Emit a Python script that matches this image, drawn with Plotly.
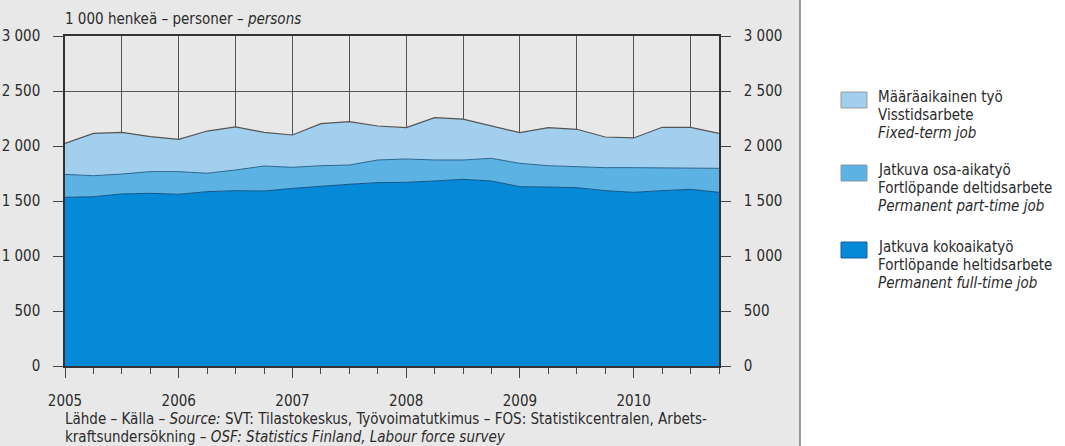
import plotly.graph_objects as go

# ---- data (1 000 persons), quarterly 2005Q1 .. 2010Q4 ----
quarters = [2005 + i * 0.25 for i in range(24)]
full_time = [1533, 1539, 1564, 1570, 1561, 1585, 1594, 1591, 1615, 1636, 1652, 1667,
             1670, 1682, 1697, 1682, 1630, 1627, 1621, 1594, 1579, 1594, 1606, 1579]
part_time = [209, 191, 181, 197, 206, 167, 188, 227, 191, 185, 175, 206,
             212, 191, 176, 206, 212, 194, 191, 209, 224, 209, 191, 218]
fixed_term = [282, 385, 379, 318, 294, 384, 391, 306, 294, 382, 394, 309,
              285, 385, 372, 294, 279, 346, 340, 279, 270, 367, 373, 318]

y_tickvals = [0, 500, 1000, 1500, 2000, 2500, 3000]
y_ticktext = ["0", "500", "1 000", "1 500", "2 000", "2 500", "3 000"]
x_tickvals = [2005 + 0.5 * i for i in range(12)]
x_ticktext = [str(int(v)) if v == int(v) else "" for v in x_tickvals]

series_names = [
    ["Määräaikainen työ", "Visstidsarbete", "<i>Fixed-term job</i>"],
    ["Jatkuva osa-aikatyö", "Fortlöpande deltidsarbete", "<i>Permanent part-time job</i>"],
    ["Jatkuva kokoaikatyö", "Fortlöpande heltidsarbete", "<i>Permanent full-time job</i>"],
]

FONT = "DejaVu Sans Condensed, Liberation Sans Narrow, sans-serif"
TXT = "#2b2b2b"
C_FIXED = "#a3cfee"
C_PART = "#5cb2e3"
C_FULL = "#0689d6"

W, H = 1065, 446
L, R, T, B = 65, 346, 36, 80
PW, PH = W - L - R, H - T - B


def px_x(x):
    return (x - L) / PW


def px_y(y):
    return (H - B - y) / PH


fig = go.Figure()
fig.add_trace(go.Scatter(x=quarters, y=full_time, stackgroup="one", mode="lines",
                         line=dict(color="#12558c", width=1), fillcolor=C_FULL,
                         name="full", showlegend=False, hoverinfo="skip"))
fig.add_trace(go.Scatter(x=quarters, y=part_time, stackgroup="one", mode="lines",
                         line=dict(color="#2a6690", width=1), fillcolor=C_PART,
                         name="part", showlegend=False, hoverinfo="skip"))
fig.add_trace(go.Scatter(x=quarters, y=fixed_term, stackgroup="one", mode="lines",
                         line=dict(color="#555555", width=1.2), fillcolor=C_FIXED,
                         name="fixed", showlegend=False, hoverinfo="skip"))
fig.add_trace(go.Scatter(x=[quarters[0]], y=[0], yaxis="y2", mode="markers",
                         marker=dict(opacity=0), showlegend=False, hoverinfo="skip"))

shapes = []
# grey panel on the left
shapes.append(dict(type="rect", xref="paper", yref="paper", x0=px_x(0), x1=px_x(800),
                   y0=px_y(H), y1=px_y(0), fillcolor="#e8e8e8", line=dict(width=0),
                   layer="below"))
shapes.append(dict(type="line", xref="paper", yref="paper", x0=px_x(800), x1=px_x(800),
                   y0=px_y(H), y1=px_y(0), line=dict(color="#7a7a7a", width=1.5)))

# legend
legend_colors = [C_FIXED, C_PART, C_FULL]
legend_border = ["#9a9a9a", "#8a9aa8", "#1a5d9a"]
square_tops = [92, 165, 242]
line_offsets = [5, 23, 41]
annotations = []
for k in range(3):
    top = square_tops[k]
    shapes.append(dict(type="rect", xref="paper", yref="paper",
                       x0=px_x(841), x1=px_x(867), y0=px_y(top + 16), y1=px_y(top),
                       fillcolor=legend_colors[k], line=dict(color=legend_border[k], width=1)))
    for j, t in enumerate(series_names[k]):
        annotations.append(dict(xref="paper", yref="paper", x=px_x(876), y=px_y(top + line_offsets[j]),
                                xanchor="left", yanchor="middle", showarrow=False, text=t,
                                font=dict(family=FONT, size=15, color=TXT)))

annotations.append(dict(xref="paper", yref="paper", x=px_x(63), y=px_y(19), xanchor="left",
                        yanchor="middle", showarrow=False,
                        text="1 000 henkeä – personer – <i>persons</i>",
                        font=dict(family=FONT, size=15, color=TXT)))
annotations.append(dict(xref="paper", yref="paper", x=px_x(63), y=px_y(419), xanchor="left",
                        yanchor="middle", showarrow=False,
                        text="Lähde – Källa – <i>Source:</i> SVT: Tilastokeskus, Työvoimatutkimus – FOS: Statistikcentralen, Arbets-",
                        font=dict(family=FONT, size=15, color=TXT)))
annotations.append(dict(xref="paper", yref="paper", x=px_x(63), y=px_y(437), xanchor="left",
                        yanchor="middle", showarrow=False,
                        text="kraftsundersökning – <i>OSF: Statistics Finland, Labour force survey</i>",
                        font=dict(family=FONT, size=15, color=TXT)))

axis_font = dict(family=FONT, size=15, color=TXT)
fig.update_layout(
    width=W, height=H,
    margin=dict(l=L, r=R, t=T, b=B, pad=0, autoexpand=False),
    paper_bgcolor="white", plot_bgcolor="white",
    shapes=shapes, annotations=annotations,
    showlegend=False,
    xaxis=dict(range=[2005, 2010.75], tickvals=x_tickvals, ticktext=x_ticktext,
               ticks="outside", ticklen=10, tickcolor="#444", tickwidth=1,
               showgrid=True, gridcolor="#555", gridwidth=1,
               showline=True, linecolor="#333", linewidth=1.5, mirror=True,
               zeroline=False, tickfont=axis_font, ticklabelstandoff=10, automargin=False,
               minor=dict(tickvals=quarters, ticks="outside", ticklen=6, tickcolor="#444",
                          showgrid=False)),
    yaxis=dict(range=[0, 3000], tickvals=y_tickvals, ticktext=y_ticktext,
               ticks="outside", ticklen=10, tickcolor="#444", tickwidth=1,
               showgrid=True, gridcolor="#555", gridwidth=1,
               showline=True, linecolor="#333", linewidth=1.5, automargin=False,
               zeroline=False, tickfont=axis_font, ticklabelstandoff=10),
    yaxis2=dict(range=[0, 3000], tickvals=y_tickvals, ticktext=y_ticktext,
                overlaying="y", side="right", automargin=False,
                ticks="outside", ticklen=10, tickcolor="#444", tickwidth=1,
                showgrid=False, showline=True, linecolor="#333", linewidth=1.5,
                zeroline=False, tickfont=axis_font, ticklabelstandoff=10),
)

fig.write_html("out.html", config={"displayModeBar": False},
               post_script="document.body.style.margin='0';")
